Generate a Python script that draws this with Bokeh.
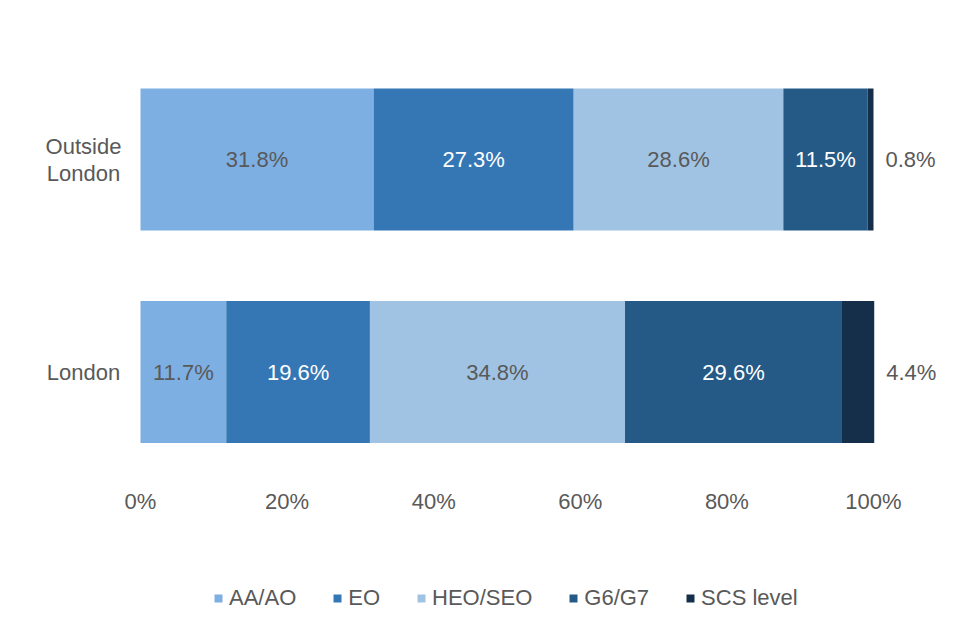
import numpy as np
from bokeh.plotting import figure
from bokeh.models import ColumnDataSource, Range1d, Legend, LegendItem
from bokeh.core.properties import value
from bokeh.embed import file_html
from bokeh.resources import INLINE

locations = ["London", "Outside London"]
location_labels = ["London", "Outside\nLondon"]
grades = ["AA/AO", "EO", "HEO/SEO", "G6/G7", "SCS level"]
aa_ao = [11.7, 31.8]
eo = [19.6, 27.3]
heo_seo = [34.8, 28.6]
g6_g7 = [29.6, 11.5]
scs = [4.4, 0.8]
x_ticks = [0, 20, 40, 60, 80, 100]
x_tick_labels = ["0%", "20%", "40%", "60%", "80%", "100%"]

colors = ["#7DAFE3", "#3477B4", "#A0C3E3", "#255A87", "#152F4A"]
label_colors = ["#595959", "#FFFFFF", "#595959", "#FFFFFF", "#595959"]
FONT = "Liberation Sans"
GREY = "#595959"
FS = "22px"

# layout constants (pixels)
W, H = 944, 620
LEFT, PLOT_W = 140, 733          # x of 0 % and width of 0..100 %
ROW_PX = 212.5                   # distance between the two bars
ROW1_Y = 159.0                   # centre of upper bar from top

series = [aa_ao, eo, heo_seo, g6_g7, scs]
ypos = list(range(len(locations)))
data = {"y": ypos}
for g, s in zip(grades, series):
    data[g] = s
src = ColumnDataSource(data)

x_per_px = 100 / PLOT_W
y_top = (len(locations) - 1) + ROW1_Y / ROW_PX
y_bot = y_top - H / ROW_PX

p = figure(width=W, height=H, output_backend="svg", toolbar_location=None,
           x_range=Range1d(-LEFT * x_per_px, (W - LEFT) * x_per_px),
           y_range=Range1d(y_bot, y_top),
           min_border_left=0, min_border_right=0, min_border_top=0, min_border_bottom=0)
p.outline_line_color = None
p.grid.visible = False
p.axis.visible = False

renderers = p.hbar_stack(grades, y="y", height=0.668, color=colors, source=src, line_color=None)

# bar value labels
arr = np.array(series)
cum = np.cumsum(arr, axis=0)
for i, g in enumerate(grades):
    right = cum[i]
    left = right - arr[i]
    if g == "SCS level":
        xs, off, align, col = list(right), 12, "left", GREY
    else:
        xs, off, align, col = list((left + right) / 2), 0, "center", label_colors[i]
    p.text(x=xs, y=ypos, text=[f"{v:.1f}%" for v in series[i]], x_offset=off,
           text_align=align, text_baseline="middle", text_color=col,
           text_font=value(FONT), text_font_size=FS)

# category labels
p.text(x=[0] * len(ypos), y=ypos, text=location_labels, x_offset=-57, text_align="center",
       text_baseline="middle", text_color=GREY, text_font=value(FONT), text_font_size=FS,
       text_line_height=1.08)

# x tick labels
p.text(x=x_ticks, y=[0] * len(x_ticks), text=x_tick_labels, y_offset=129, text_align="center",
       text_baseline="middle", text_color=GREY, text_font=value(FONT), text_font_size=FS)

legend = Legend(items=[LegendItem(label=g, renderers=[r]) for g, r in zip(grades, renderers)],
                orientation="horizontal", location=(213, 9), border_line_color=None,
                background_fill_alpha=0, label_text_font=FONT, label_text_font_size=FS,
                label_text_color=GREY, glyph_width=10, glyph_height=10, label_standoff=6,
                spacing=36, padding=4, margin=0)
p.add_layout(legend, "center")

open("out.html", "w").write(file_html(p, INLINE))
